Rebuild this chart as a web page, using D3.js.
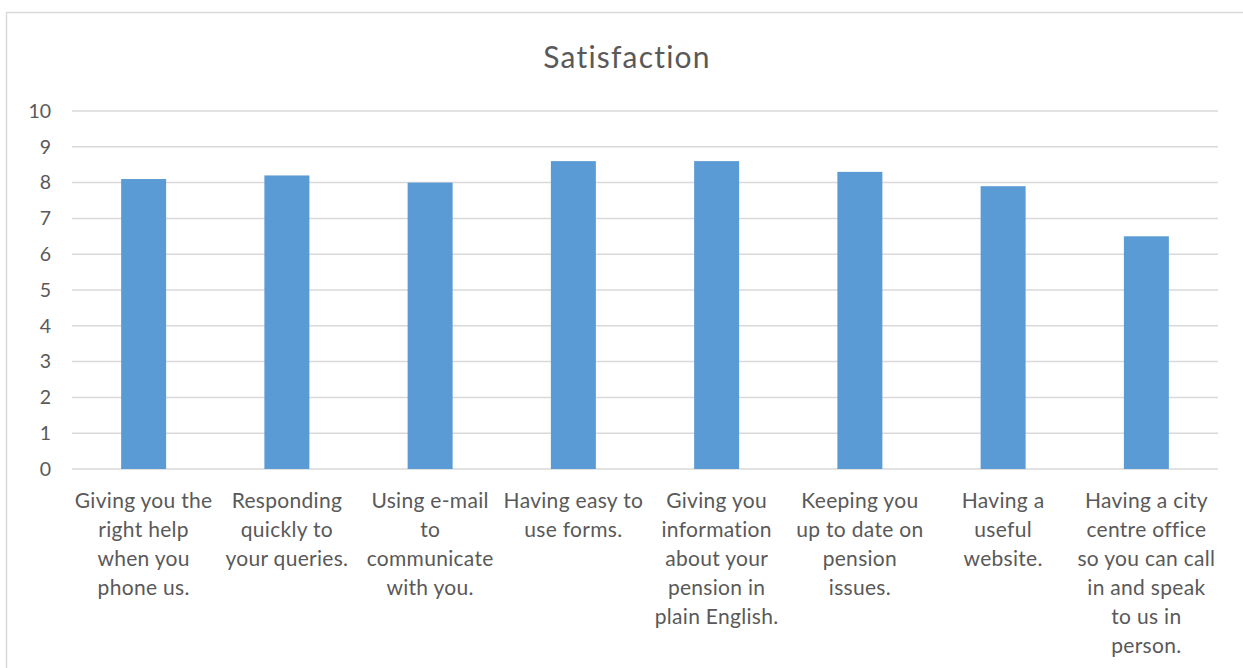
<!DOCTYPE html>
<html>
<head>
<meta charset="utf-8">
<script src="https://cdn.jsdelivr.net/npm/d3@7"></script>
<style>
  html, body { margin: 0; padding: 0; background: #fff; }
  svg { display: block; }
</style>
</head>
<body>
<svg id="chart" width="1243" height="668"></svg>
<script>
const categories = [
  ["Giving you the", "right help", "when you", "phone us."],
  ["Responding", "quickly to", "your queries."],
  ["Using e-mail", "to", "communicate", "with you."],
  ["Having easy to", "use forms."],
  ["Giving you", "information", "about your", "pension in", "plain English."],
  ["Keeping you", "up to date on", "pension", "issues."],
  ["Having a", "useful", "website."],
  ["Having a city", "centre office", "so you can call", "in and speak", "to us in", "person."]
];
const values = [8.1, 8.2, 8.0, 8.6, 8.6, 8.3, 7.9, 6.5];
const yTicks = [0, 1, 2, 3, 4, 5, 6, 7, 8, 9, 10];
const title = "Satisfaction";

(function () {
const svg = d3.select("#chart");
const font = "Lato, 'Open Sans', sans-serif";
const textColor = "#595959";

// outer chart border
svg.append("rect")
  .attr("x", 6.5).attr("y", 12.5)
  .attr("width", 1260).attr("height", 700)
  .attr("fill", "none").attr("stroke", "#D9D9D9").attr("stroke-width", 1.5);

const pLeft = 72, pRight = 1218, pTop = 111, pBottom = 469;

const x = d3.scaleBand()
  .domain(categories.map((d, i) => i))
  .range([pLeft, pRight])
  .paddingInner(0.686)
  .paddingOuter(0.343);

const y = d3.scaleLinear().domain([0, 10]).range([pBottom, pTop]);

// gridlines
svg.append("g")
  .selectAll("line")
  .data(yTicks)
  .join("line")
  .attr("x1", pLeft).attr("x2", pRight)
  .attr("y1", d => y(d)).attr("y2", d => y(d))
  .attr("stroke", "#D9D9D9").attr("stroke-width", 1.5);

// y axis labels
const yAxis = d3.axisLeft(y).tickValues(yTicks).tickSize(0).tickPadding(0);
const yg = svg.append("g").attr("transform", `translate(${pLeft - 21},0)`).call(yAxis);
yg.select(".domain").remove();
yg.selectAll("text")
  .attr("font-family", font).attr("font-size", 19.5).attr("fill", textColor);

// bars
svg.append("g")
  .selectAll("rect")
  .data(values)
  .join("rect")
  .attr("x", (d, i) => x(i))
  .attr("width", x.bandwidth())
  .attr("y", d => y(d))
  .attr("height", d => y(0) - y(d))
  .attr("fill", "#5B9BD5");

// x axis labels
const xAxis = d3.axisBottom(x).tickSize(0).tickFormat("");
const xg = svg.append("g").attr("transform", `translate(0,${pBottom})`).call(xAxis);
xg.select(".domain").remove();
xg.selectAll(".tick").each(function(d) {
  const t = d3.select(this).append("text")
    .attr("text-anchor", "middle")
    .attr("font-family", font).attr("font-size", 21).attr("fill", textColor)
    .attr("letter-spacing", 0.3)
    .attr("y", 39);
  categories[d].forEach((line, k) => {
    t.append("tspan").attr("x", 0).attr("dy", k === 0 ? 0 : 29).text(line);
  });
});

// title
svg.append("text")
  .attr("x", 627).attr("y", 68)
  .attr("text-anchor", "middle")
  .attr("font-family", font).attr("font-size", 30).attr("fill", textColor)
  .attr("letter-spacing", 1.2)
  .text(title);
})();
</script>
</body>
</html>
